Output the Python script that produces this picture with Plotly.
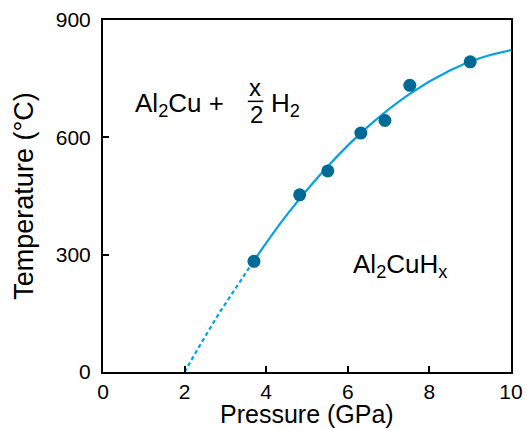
import plotly.graph_objects as go

# measured data points
pressure = [3.7, 4.82, 5.51, 6.32, 6.91, 7.52, 9.0]
temperature = [283, 453, 514, 611, 643, 733, 793]

# boundary curve
dash_p = [2.0, 2.4, 2.85, 3.3, 3.7]
dash_t = [0, 73, 151, 222, 285]
solid_p = [3.7, 4.5, 5.5, 6.5, 7.5, 8.5, 9.25, 10.0]
solid_t = [285, 401, 525, 628, 710, 771, 803, 823]

x_ticks = [0, 2, 4, 6, 8, 10]
y_ticks = [0, 300, 600, 900]

LINE = "rgb(0,162,226)"
DOT = "rgb(0,106,150)"
FONT = "Liberation Sans, Arial, sans-serif"

fig = go.Figure()
fig.add_trace(go.Scatter(x=dash_p, y=dash_t, mode="lines",
                         line=dict(color=LINE, width=2.2, dash="4px,3px"),
                         hoverinfo="skip"))
fig.add_trace(go.Scatter(x=solid_p, y=solid_t, mode="lines",
                         line=dict(color=LINE, width=2.2, shape="spline"),
                         hoverinfo="skip"))
fig.add_trace(go.Scatter(x=pressure, y=temperature, mode="markers",
                         marker=dict(color=DOT, size=13)))

fig.add_annotation(x=0.74, y=684, text="Al<sub>2</sub>Cu +", showarrow=False,
                   xanchor="left", yanchor="middle", font=dict(size=26))
fig.add_annotation(x=3.72, y=728, text="x", showarrow=False,
                   xanchor="center", yanchor="middle", font=dict(size=24))
fig.add_annotation(x=3.75, y=658, text="2", showarrow=False,
                   xanchor="center", yanchor="middle", font=dict(size=24))
fig.add_shape(type="line", x0=3.55, x1=3.93, y0=692, y1=692,
              line=dict(color="black", width=1.5))
fig.add_annotation(x=4.08, y=684, text="H<sub>2</sub>", showarrow=False,
                   xanchor="left", yanchor="middle", font=dict(size=26))
fig.add_annotation(x=6.08, y=272, text="Al<sub>2</sub>CuH<sub>x</sub>", showarrow=False,
                   xanchor="left", yanchor="middle", font=dict(size=26))

# x-axis title placed just below the tick labels
fig.add_annotation(xref="paper", yref="paper", x=0.5, y=-0.076, text="Pressure (GPa)",
                   showarrow=False, xanchor="center", yanchor="top", borderpad=0,
                   font=dict(size=25, color="black"))

axis_common = dict(showgrid=False, zeroline=False, showline=True, linecolor="black",
                   linewidth=2, mirror=True, ticks="inside", ticklen=6, tickwidth=1.5,
                   tickcolor="black", tickfont=dict(size=21, color="black"),
                   automargin=False)
fig.update_xaxes(range=[0, 10], tickvals=x_ticks, ticklabelstandoff=0, **axis_common)
fig.update_yaxes(range=[0, 900], tickvals=y_ticks, ticklabelstandoff=6,
                 title=dict(text="Temperature (°C)", font=dict(size=27, color="black"), standoff=14),
                 **axis_common)

fig.update_layout(width=525, height=430, margin=dict(l=103, r=14, t=20, b=58),
                  paper_bgcolor="white", plot_bgcolor="white", showlegend=False,
                  font=dict(family=FONT, color="black"))

fig.write_html("out.html", config={"displayModeBar": False},
               post_script="document.body.style.margin='0';")
